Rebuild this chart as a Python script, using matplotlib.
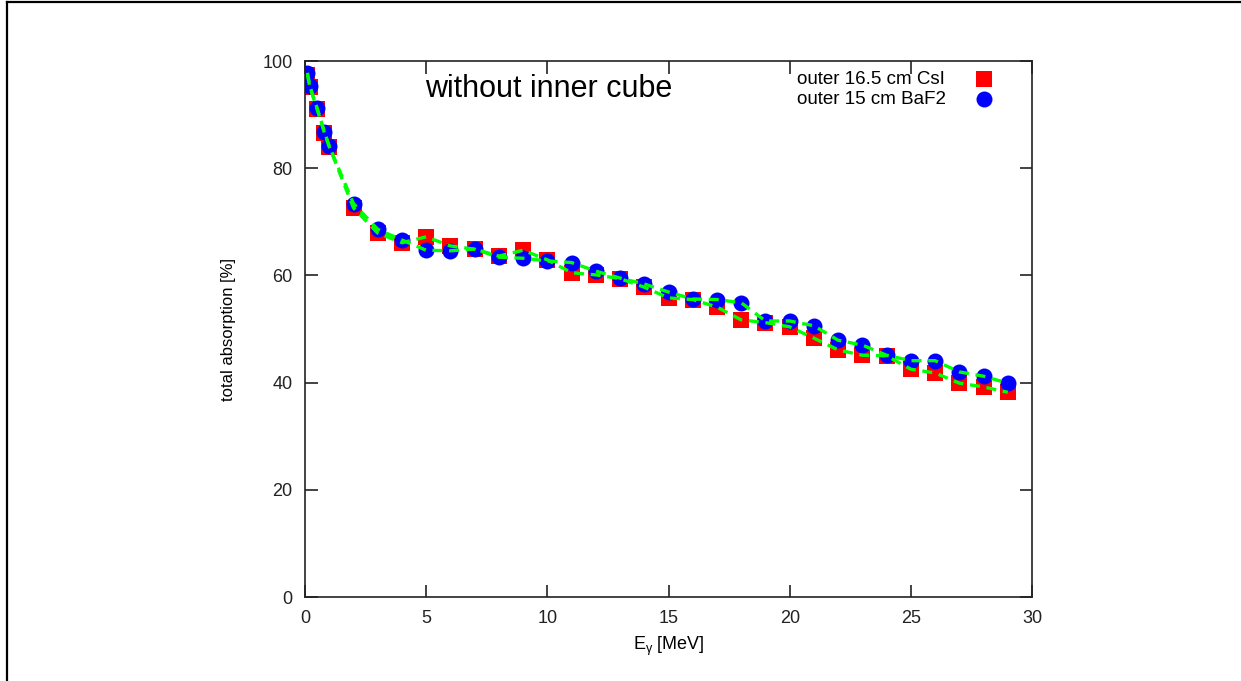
import matplotlib
matplotlib.use("Agg")
import matplotlib.pyplot as plt
from matplotlib.lines import Line2D

plt.rcParams['font.family'] = ['Liberation Sans', 'DejaVu Sans']
plt.rcParams['mathtext.fontset'] = 'custom'
plt.rcParams['mathtext.rm'] = 'Liberation Sans'
plt.rcParams['mathtext.it'] = 'Liberation Sans'

energy = [0.1, 0.2, 0.5, 0.8, 1.0, 2, 3, 4, 5, 6, 7, 8, 9, 10, 11, 12, 13, 14, 15,
          16, 17, 18, 19, 20, 21, 22, 23, 24, 25, 26, 27, 28, 29]
csi = [97.4, 95.1, 91.0, 86.6, 84.0, 72.6, 67.9, 66.1, 67.2, 65.5, 64.9, 63.6, 64.7, 62.9,
       60.5, 60.1, 59.4, 57.8, 55.8, 55.5, 54.1, 51.7, 51.2, 50.4, 48.3, 46.1, 45.1, 45.0,
       42.5, 41.8, 39.9, 39.2, 38.2]
baf2 = [97.8, 95.3, 91.2, 86.8, 84.1, 73.4, 68.6, 66.6, 64.7, 64.6, 64.9, 63.4, 63.2, 62.7,
        62.4, 60.8, 59.5, 58.4, 56.9, 55.6, 55.5, 54.9, 51.5, 51.5, 50.6, 47.9, 47.0, 45.1,
        44.1, 44.1, 42.0, 41.2, 39.9]

label_csi = "outer 16.5 cm CsI"
label_baf2 = "outer 15 cm BaF2"
title = "without inner cube"
xticks = [0, 5, 10, 15, 20, 25, 30]
yticks = [0, 20, 40, 60, 80, 100]

fig = plt.figure(figsize=(12.41, 6.81), dpi=100)
ax = fig.add_axes([0.2458, 0.1233, 0.5858, 0.7871])

ax.plot(energy, csi, linestyle='none', marker='s', color='#ff0000', markersize=11.5,
        markeredgewidth=0, zorder=2)
ax.plot(energy, baf2, linestyle='none', marker='o', color='#0000ff', markersize=11.5,
        markeredgewidth=0, zorder=3)
ax.plot(energy, csi, color='#00ff00', linewidth=2.4, dashes=(3.0, 2.0), zorder=4)
ax.plot(energy, baf2, color='#00ff00', linewidth=2.4, dashes=(3.0, 2.0), zorder=4)

ax.set_xlim(0, 30)
ax.set_ylim(0, 100)
ax.set_xticks(xticks)
ax.set_yticks(yticks)
ax.tick_params(direction='in', length=9, width=1.2, top=True, right=True,
               labelsize=13, colors='#222222', pad=9)
for s in ax.spines.values():
    s.set_linewidth(1.2)
    s.set_color('#222222')

ax.set_xlabel(r"E$_{\mathrm{\gamma}}$ [MeV]", fontsize=13, labelpad=6)
ax.set_ylabel("total absorption [%]", fontsize=12, labelpad=19)

ax.text(0.165, 0.947, title, transform=ax.transAxes, fontsize=22, ha='left', va='center')

# legend (points only, text left, marker right)
ax.text(0.677, 0.966, label_csi, transform=ax.transAxes, fontsize=13.5, ha='left', va='center')
ax.text(0.677, 0.929, label_baf2, transform=ax.transAxes, fontsize=13.5, ha='left', va='center')
ax.plot([0.934], [0.966], transform=ax.transAxes, linestyle='none', marker='s',
        color='#ff0000', markersize=11.5, markeredgewidth=0, clip_on=False)
ax.plot([0.934], [0.929], transform=ax.transAxes, linestyle='none', marker='o',
        color='#0000ff', markersize=11.5, markeredgewidth=0, clip_on=False)

fig.add_artist(Line2D([0.0056, 0.0056], [0, 0.997], transform=fig.transFigure,
                      color='black', linewidth=1.6))
fig.add_artist(Line2D([0.0056, 1.0], [0.997, 0.997], transform=fig.transFigure,
                      color='black', linewidth=1.6))

fig.savefig("out.png", dpi=100)
